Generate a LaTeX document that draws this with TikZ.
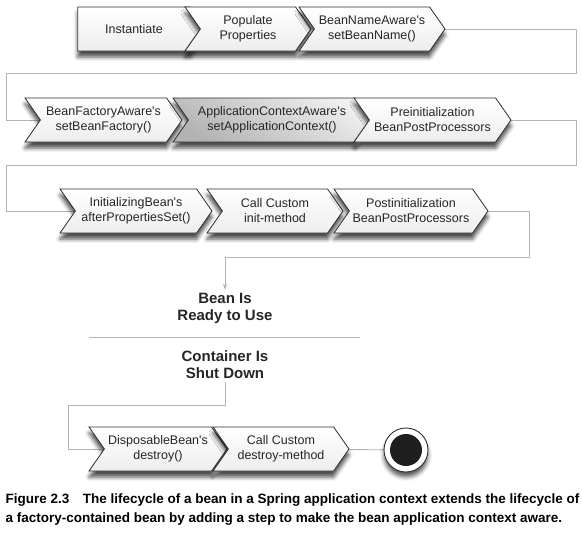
\documentclass[tikz,border=0pt]{standalone}
\usepackage{fontspec}
\setmainfont{Liberation Sans}[Ligatures=TeXOff]
\usepackage{tikz}
\usetikzlibrary{shapes.symbols,shadows.blur,backgrounds,arrows.meta}
\definecolor{edge}{HTML}{2E2E2E}
\definecolor{wire}{HTML}{B4B4B4}
\tikzstyle{stp}=[signal, signal to=east, signal from=west, signal pointer angle=110,
  draw=edge, line width=0.8pt, top color=white, bottom color=gray!14, minimum height=44pt, inner sep=0pt,
  align=center, font=\fontsize{12.5}{15}\selectfont, text=black!85,
  blur shadow={shadow xshift=0pt, shadow yshift=-6pt, shadow blur radius=4pt, shadow opacity=70}]
\tikzstyle{first}=[stp, signal from=nowhere]
\tikzstyle{dark}=[top color=gray!12, bottom color=gray!60, shading angle=-30]
\tikzstyle{conn}=[draw=wire, line width=0.9pt]
\tikzstyle{big}=[align=center, font=\fontsize{15}{17}\selectfont\bfseries, text=black!85]

\begin{document}
\begin{tikzpicture}[x=1pt, y=-1pt]
\useasboundingbox (0,0) rectangle (582,549);

\node[first, minimum width=128pt] (inst) at (134,29) {Instantiate};
\node[stp, minimum width=126pt] (pop) at (248,29) {Populate\\Properties};
\node[stp, minimum width=146pt] (bna) at (372,29) {BeanNameAware's\\setBeanName()};

\node[stp, minimum width=157pt] (bfa) at (103.5,120) {BeanFactoryAware's\\setBeanFactory()};
\node[stp, dark, minimum width=198pt] (aca) at (272,120) {ApplicationContextAware's\\setApplicationContext()};
\node[stp, minimum width=157pt] (pre) at (432.5,120) {Preinitialization\\BeanPostProcessors};

\node[stp, minimum width=152pt] (ibn) at (136,211) {InitializingBean's\\afterPropertiesSet()};
\node[stp, minimum width=136pt] (init) at (275,211) {Call Custom\\init-method};
\node[stp, minimum width=154pt] (post) at (411,211) {Postinitialization\\BeanPostProcessors};

\node[big] (ready) at (225,308.5) {Bean Is\\Ready to Use};
\node[big] (shut) at (225,364.5) {Container Is\\Shut Down};

\node[stp, minimum width=138pt] (dsp) at (158,449) {DisposableBean's\\destroy()};
\node[stp, minimum width=136pt] (dst) at (281,449) {Call Custom\\destroy-method};

\node[circle, draw=edge, line width=0.9pt, fill=white, minimum size=44pt,
  blur shadow={shadow xshift=0pt, shadow yshift=-5pt, shadow blur radius=4pt, shadow opacity=65}] (stop) at (406,450) {};
\node[circle, fill=black!88, minimum size=32pt] (dot) at (stop) {};

% bends of the connectors
\coordinate (r1) at (576,73);
\coordinate (l1) at (6,120);
\coordinate (r2) at (576,165);
\coordinate (l2) at (6,211);
\coordinate (r3) at (529,257);
\coordinate (l4) at (68,405);
\coordinate (sepL) at (89,337);
\coordinate (sepR) at (360,337);

\begin{scope}[on background layer]
\draw[conn] (bna.center) -| (r1) -| (l1) -- (bfa.center);
\draw[conn] (pre.center) -| (r2) -| (l2) -- (ibn.center);
\draw[conn, -{Stealth[length=6pt, width=4pt]}] (post.center) -| (r3) -| (ready.north);
\draw[conn] (shut.south) |- (l4) |- (dsp.center);
\draw[conn] (dst.center) -- (stop);
\end{scope}
\draw[conn] (sepL) -- (sepR);

\node[anchor=base west, align=left, font=\fontsize{13.5}{19}\selectfont\bfseries] (cap) at (2,522)
  {Figure 2.3\quad The lifecycle of a bean in a Spring application context extends the lifecycle of\\
   a factory-contained bean by adding a step to make the bean application context aware.};

\end{tikzpicture}
\end{document}
